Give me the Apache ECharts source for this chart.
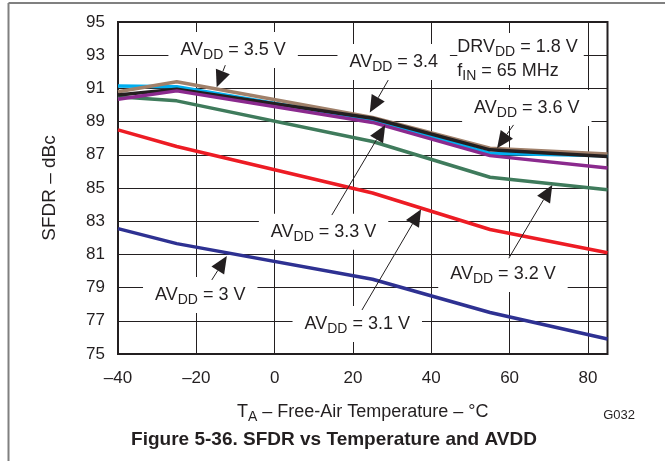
<!DOCTYPE html>
<html>
<head>
<meta charset="utf-8">
<script src="https://cdn.jsdelivr.net/npm/echarts@6/dist/echarts.min.js"></script>
<style>
  html, body { margin: 0; padding: 0; background: #fff; }
  #chart { width: 665px; height: 461px; }
</style>
</head>
<body>
<div id="chart"></div>
<script>
// ---- data ----
const temps = [-40, -25, 25, 55, 85];
const avdd30 = [82.55, 81.65, 79.5, 77.5, 75.9];
const avdd31 = [88.5, 87.5, 84.7, 82.5, 81.1];
const avdd32 = [90.5, 90.25, 87.8, 85.65, 84.9];
const avdd33 = [90.35, 90.85, 88.95, 86.95, 86.2];
const avdd34 = [90.6, 90.95, 89.2, 87.3, 86.9];
const avdd35 = [90.8, 91.4, 89.25, 87.4, 87.05];
const avdd36 = [91.15, 91.1, 89.1, 87.1, 86.95];
const xTicks = [-40, -20, 0, 20, 40, 60, 80];
const yTicks = [75, 77, 79, 81, 83, 85, 87, 89, 91, 93, 95];

// annotation labels: [text, T, value]
const labels = [
  ['AV{s|DD} = 3.5 V', -10.6, 93.31],
  ['AV{s|DD} = 3.4', 30.4, 92.59],
  ['AV{s|DD} = 3.6 V', 64.4, 89.82],
  ['AV{s|DD} = 3.3 V', 12.5, 82.37],
  ['AV{s|DD} = 3 V', -19.0, 78.55],
  ['AV{s|DD} = 3.1 V', 21.1, 76.8],
  ['AV{s|DD} = 3.2 V', 58.3, 79.82]
];
// arrows: [fromT, fromV, tipT, tipV]
const arrows = [
  [-12.6, 92.4, -14.8, 91.07],
  [29.0, 91.5, 24.3, 89.55],
  [61.0, 88.8, 56.8, 87.39],
  [14.6, 83.37, 28.25, 88.8],
  [-16.05, 79.46, -12.2, 80.9],
  [22.3, 77.65, 37.4, 83.72],
  [59.8, 80.77, 70.9, 85.18]
];
const condText = ['DRV{s|DD} = 1.8 V', 'f{s|IN} = 65 MHz'];
const condPos = [46.65, 93.49, 92.05];

const FONT = '"Liberation Sans", Arial, Helvetica, sans-serif';
const INK = '#231f20';

const chart = echarts.init(document.getElementById('chart'), null, {renderer: 'canvas'});
const fmt = v => (v < 0 ? '\u2013' + Math.abs(v) : String(v));

function mk(name, data, color) {
  return {
    name: name, type: 'line', data: temps.map((t, i) => [t, data[i]]),
    symbol: 'none', lineStyle: {color: color, width: 3.5}, itemStyle: {color: color},
    emphasis: {disabled: true}
  };
}

chart.setOption({
  animation: false,
  grid: {left: 118, top: 22, right: 57.5, bottom: 107, show: true, borderColor: INK, borderWidth: 2},
  xAxis: {
    type: 'value', min: -40, max: 85, interval: 20,
    axisLine: {show: false}, axisTick: {show: false},
    splitLine: {lineStyle: {color: INK, width: 1}},
    axisLabel: {formatter: fmt, fontSize: 17, color: INK, margin: 16, fontFamily: FONT,
      customValues: xTicks},
    name: 'T{s|A} \u2013 Free-Air Temperature \u2013 \u00B0C', nameLocation: 'middle', nameGap: 46,
    nameTextStyle: {fontSize: 18, color: INK, fontFamily: FONT,
      rich: {s: {fontSize: 14, padding: [10, 0, 0, 0], fontFamily: FONT, color: INK}}}
  },
  yAxis: {
    type: 'value', min: 75, max: 95, interval: 2,
    axisLine: {show: false}, axisTick: {show: false},
    splitLine: {lineStyle: {color: INK, width: 1}},
    axisLabel: {fontSize: 17, color: INK, margin: 13, fontFamily: FONT, customValues: yTicks},
    name: 'SFDR \u2013 dBc', nameLocation: 'middle', nameGap: 59,
    nameTextStyle: {fontSize: 19, color: INK, fontFamily: FONT}
  },
  series: [
    mk('AVDD = 3 V', avdd30, '#2e3192'),
    mk('AVDD = 3.1 V', avdd31, '#ed1c24'),
    mk('AVDD = 3.2 V', avdd32, '#3f7b5c'),
    mk('AVDD = 3.6 V', avdd36, '#00aeef'),
    mk('AVDD = 3.5 V', avdd35, '#a0806a'),
    mk('AVDD = 3.4 V', avdd34, INK),
    mk('AVDD = 3.3 V', avdd33, '#8b2a8e')
  ]
});

const px = (t, v) => chart.convertToPixel({gridIndex: 0}, [t, v]);
const g = [];
const subRich = {s: {fontSize: 14, padding: [10, 0, 0, 0], fontFamily: FONT, fill: INK}};
labels.forEach(l => {
  const p = px(l[1], l[2]);
  g.push({type: 'text', x: p[0], y: p[1], z: 50,
    style: {text: l[0], rich: subRich, fontSize: 18, fontFamily: FONT, fill: INK,
      align: 'center', verticalAlign: 'middle', backgroundColor: '#fff', padding: [6, 12]}});
});
arrows.forEach(a => {
  const f = px(a[0], a[1]), t = px(a[2], a[3]);
  const dx = t[0] - f[0], dy = t[1] - f[1];
  const len = Math.sqrt(dx * dx + dy * dy);
  const ux = dx / len, uy = dy / len;
  const hl = 17, hw = 7.5;
  const bx = t[0] - ux * hl, by = t[1] - uy * hl;
  g.push({type: 'line', z: 60, shape: {x1: f[0], y1: f[1], x2: bx, y2: by},
    style: {stroke: INK, lineWidth: 1}});
  g.push({type: 'polygon', z: 60, shape: {points: [[t[0], t[1]],
      [bx - uy * hw, by + ux * hw], [bx + uy * hw, by - ux * hw]]},
    style: {fill: INK}});
});
const c1 = px(condPos[0], condPos[1]), c2 = px(condPos[0], condPos[2]);
[c1, c2].forEach((c, i) => {
  g.push({type: 'text', x: c[0], y: c[1], z: 50,
    style: {text: condText[i], rich: subRich, fontSize: 18, fontFamily: FONT, fill: INK,
      align: 'left', verticalAlign: 'middle', backgroundColor: '#fff', padding: [2, 6, 2, 0]}});
});
// figure caption, tag and frame
g.push({type: 'text', x: 334, y: 440, z: 50,
  style: {text: 'Figure 5-36. SFDR vs Temperature and AVDD', fontSize: 19, fontWeight: 'bold',
    fontFamily: FONT, fill: INK, align: 'center', verticalAlign: 'middle'}});
g.push({type: 'text', x: 635, y: 415, z: 50,
  style: {text: 'G032', fontSize: 13, fontFamily: FONT, fill: INK, align: 'right', verticalAlign: 'middle'}});
g.push({type: 'line', z: 50, shape: {x1: 8.5, y1: 3, x2: 665, y2: 3}, style: {stroke: '#808080', lineWidth: 2}});
g.push({type: 'line', z: 50, shape: {x1: 8.5, y1: 3, x2: 8.5, y2: 461}, style: {stroke: '#808080', lineWidth: 2}});
chart.setOption({graphic: g});
</script>
</body>
</html>
